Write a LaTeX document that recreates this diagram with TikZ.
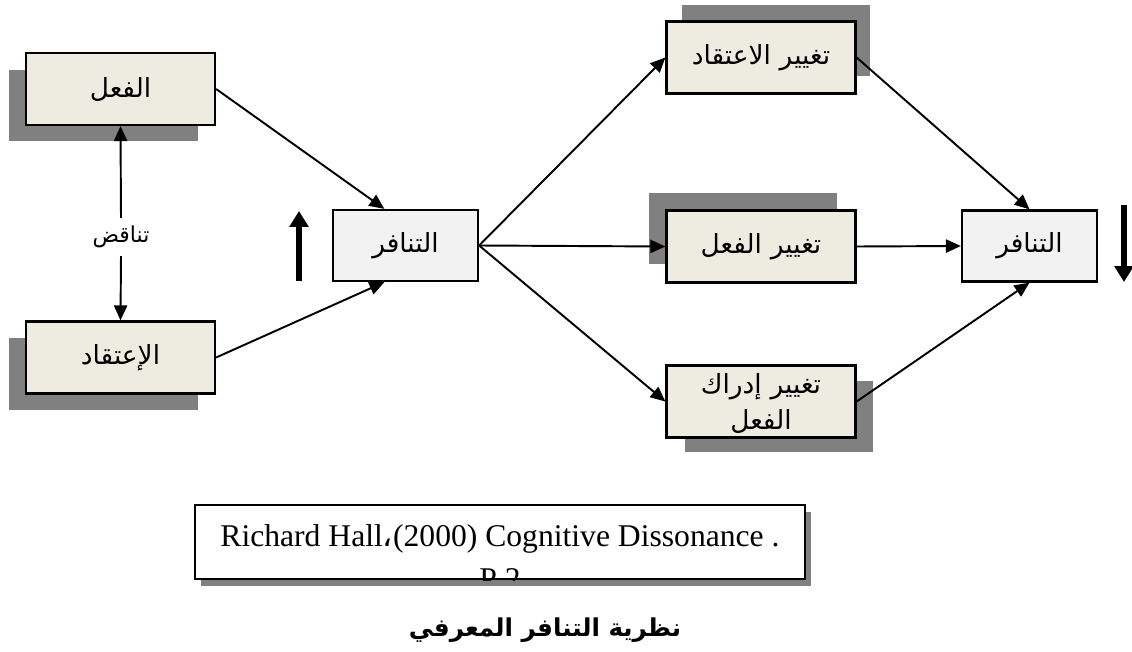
\documentclass[tikz,border=0pt]{standalone}
\usepackage{fontspec}
\setmainfont{Liberation Serif}
\newfontfamily\arabicfont[Script=Arabic]{DejaVu Sans}
\TeXXeTstate=1
\usetikzlibrary{positioning, arrows.meta, shadows}
\definecolor{boxbeige}{HTML}{EEECE1}
\definecolor{boxgray}{HTML}{F2F2F2}
\definecolor{shadowgray}{HTML}{808080}
\newcommand{\artext}[1]{{\arabicfont\beginR #1\endR}}

\begin{document}
\begin{tikzpicture}[x=0.02cm, y=-0.02cm, line width=1.1pt,
    >={Triangle[length=8.5pt, width=7.5pt]},
    main/.style = {draw, line width=1.3pt, fill=boxbeige, minimum width=3.78cm, minimum height=1.44cm,
        inner sep=2pt, text width=3.5cm, align=center, font=\fontsize{15}{19}\selectfont},
    mid/.style = {main, fill=boxgray, minimum width=2.9cm, minimum height=1.42cm, text width=2.6cm},
    sbl/.style = {general shadow={fill=shadowgray, shadow xshift=-0.34cm, shadow yshift=-0.33cm}},
    stl/.style = {general shadow={fill=shadowgray, shadow xshift=-0.36cm, shadow yshift=0.36cm}},
    str/.style = {general shadow={fill=shadowgray, shadow xshift=0.3cm, shadow yshift=0.34cm}},
    sbr/.style = {general shadow={fill=shadowgray, shadow xshift=0.36cm, shadow yshift=-0.3cm}},
    bigarrow/.style = {-{Triangle[length=9pt, width=10.5pt]}, line width=3pt},
    citetext/.style = {font=\fontsize{18}{21}\selectfont, inner sep=0pt}]
    \useasboundingbox (0,0) rectangle (1132,652);
    % left side
    \node[main, sbl] (fi3l) at (120.5,89) {\artext{الفعل}};
    \node[main, sbl] (itiqad) at (120.5,357.5) {\artext{الإعتقاد}};
    \node[font=\fontsize{12.5}{14}\selectfont, inner sep=4pt] (contra) at (121,237) {\artext{تناقض}};
    \node[mid] (tan1) at (405.5,245.5) {\artext{التنافر}};
    % right side
    \node[main, str] (tbel) at (761,57.5) {\artext{تغيير الاعتقاد}};
    \node[main, stl] (tact) at (761,246.5) {\artext{تغيير الفعل}};
    \node[main, sbr] (tperc) at (761,401.5)
        {\raisebox{-5.5pt}[0pt][0pt]{\begin{tabular}{@{}c@{}}\artext{تغيير إدراك}\\[1.5pt]\artext{الفعل}\end{tabular}}};
    \node[mid, minimum width=2.7cm, text width=2.4cm] (tan2) at (1029.5,246) {\artext{التنافر}};
    \coordinate (up1) at (299,281);
    \coordinate (up2) at (299,211);
    \coordinate (down1) at (1124,205);
    \coordinate (down2) at (1124,282);

    \draw[->] (contra.north) -- (fi3l.south);
    \draw[->] (contra.south) -- (itiqad.north);
    \draw[->] (fi3l.east) -- (tan1.120);
    \draw[->] (itiqad.east) -- (tan1.240);
    \draw[->] (tan1.east) -- (tbel.west);
    \draw[->] (tan1.east) -- (tact.west);
    \draw[->] (tan1.east) -- (tperc.west);
    \draw[->] (tbel.east) -- (tan2.north);
    \draw[->] (tact.east) -- (tan2.west);
    \draw[->] (tperc.east) -- (tan2.south);
    \draw[bigarrow] (up1) -- (up2);
    \draw[bigarrow] (down1) -- (down2);

    % source and title
    \node[draw, line width=1.2pt, fill=white, minimum width=12.2cm, minimum height=1.48cm, inner sep=0pt,
        general shadow={fill=shadowgray, shadow xshift=0.12cm, shadow yshift=-0.14cm}] (cite) at (500,542) {};
    \node[citetext, anchor=base] (source) at (500,546) {Richard Hall{\arabicfont ،}(2000) Cognitive Dissonance .};
    \begin{scope}
        \clip (cite.south west) rectangle (cite.north east);
        \node[citetext, anchor=base] (page) at (500,589) {P 2};
    \end{scope}
    \node[font=\arabicfont\bfseries\fontsize{14}{18}\selectfont] (title) at (545,630) {\beginR نظرية التنافر المعرفي\endR};
\end{tikzpicture}
\end{document}
